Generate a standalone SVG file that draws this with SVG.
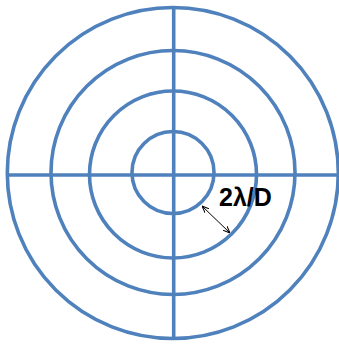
<svg xmlns="http://www.w3.org/2000/svg" width="339" height="345" viewBox="0 0 339 345">
<style>
.c{fill:none;stroke:#4F81BD;stroke-width:3.6}
.a{stroke:#000;stroke-width:1;fill:none}
.t{font-family:"Liberation Sans",Arial,sans-serif;font-weight:bold;font-size:25px;fill:#000}
</style>
<defs>
<marker id="ah" viewBox="0 0 10 10" refX="9" refY="5" markerWidth="7" markerHeight="7" orient="auto-start-reverse" markerUnits="userSpaceOnUse">
<path d="M0,1 L10,5 L0,9" fill="none" stroke="#000" stroke-width="1.5"/>
</marker>
</defs>
<g id="circles">
<circle id="ring1" class="c" cx="172.8" cy="173" r="165.5"/>
<circle id="ring2" class="c" cx="173" cy="172.5" r="122"/>
<circle id="ring3" class="c" cx="173" cy="174.5" r="83.5"/>
<circle id="ring4" class="c" cx="173" cy="172.5" r="41"/>
</g>
<g id="axes">
<line class="c" x1="7" y1="175" x2="338" y2="175"/>
<line class="c" x1="173.7" y1="7" x2="173.7" y2="339"/>
</g>
<g id="connectors">
<line class="a" x1="202.5" y1="206.5" x2="229.5" y2="232.5" marker-start="url(#ah)" marker-end="url(#ah)"/>
</g>
<g id="label">
<text class="t" x="219" y="206">2λ/D</text>
</g>
</svg>
